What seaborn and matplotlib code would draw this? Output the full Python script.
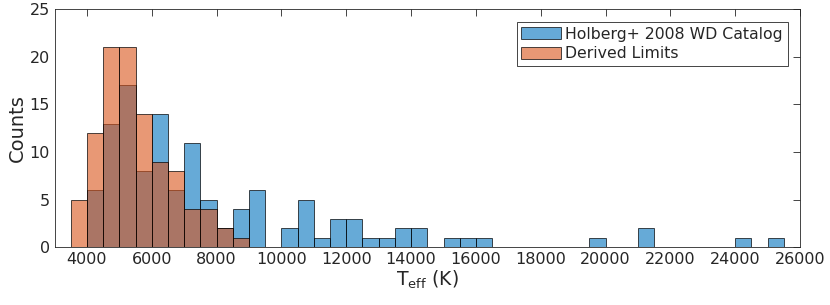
import numpy as np
import pandas as pd
import seaborn as sns
import matplotlib.pyplot as plt

# histogramdata, 500 K breda bins (startvärde för varje bin)
bin_width = 500

holberg_bins = list(range(3500, 25500, 500))
holberg_counts = [0, 6, 13, 17, 8, 14, 6, 11, 5, 2, 4, 6, 0, 2, 5, 1, 3, 3, 1, 1, 2, 2,
                  0, 1, 1, 1, 0, 0, 0, 0, 0, 0, 1, 0, 0, 2, 0, 0, 0, 0, 0, 1, 0, 1]

derived_bins = list(range(3500, 9000, 500))
derived_counts = [5, 12, 21, 21, 14, 9, 8, 4, 4, 2, 1]

x_ticks = list(range(4000, 26001, 2000))
y_ticks = [0, 5, 10, 15, 20, 25]

blue = '#0072BD'
orange = '#D95319'

sns.set_style('white')
plt.rcParams['font.family'] = ['DejaVu Sans']

fig = plt.figure(figsize=(8.3, 3.05), dpi=100)
ax = fig.add_axes([0.0657, 0.19, 0.8983, 0.779])

def draw_hist(bins, counts, color, label):
    df = pd.DataFrame({'teff': [b + bin_width / 2 for b in bins], 'n': counts})
    edges = list(bins) + [bins[-1] + bin_width]
    sns.histplot(data=df, x='teff', weights='n', bins=edges, color=color, alpha=0.6,
                 edgecolor=(0, 0, 0, 0.7), linewidth=0.7, label=label, ax=ax)

draw_hist(holberg_bins, holberg_counts, blue, 'Holberg+ 2008 WD Catalog')
draw_hist(derived_bins, derived_counts, orange, 'Derived Limits')

ax.set_xlim(3000, 26000)
ax.set_ylim(0, 25)
ax.set_xticks(x_ticks)
ax.set_yticks(y_ticks)
ax.tick_params(direction='in', length=5, width=0.6, top=True, right=True,
               labelsize=11.5, colors='#262626')
for s in ax.spines.values():
    s.set_color('#262626')
    s.set_linewidth(0.6)

ax.set_xlabel(r'T$_{\rm eff}$ (K)', fontsize=13.5, color='#262626', labelpad=1)
ax.set_ylabel('Counts', fontsize=14, color='#262626', labelpad=2)

leg = ax.legend(loc='upper right', fontsize=11.3, handlelength=2.5, handleheight=0.75,
                fancybox=False, framealpha=1, edgecolor='#262626',
                borderaxespad=0.8, handletextpad=0.3, labelspacing=0.3, borderpad=0.3)
leg.get_frame().set_linewidth(0.6)

plt.savefig('out.png', dpi=100)
